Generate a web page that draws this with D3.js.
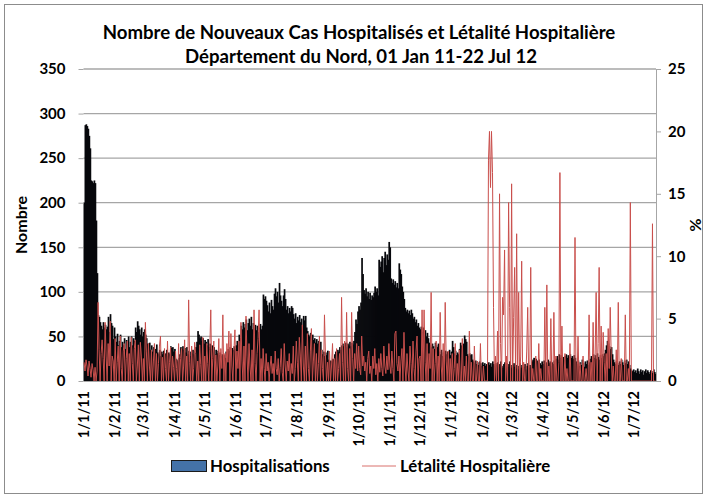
<!DOCTYPE html>
<html>
<head>
<meta charset="utf-8">
<script src="https://cdn.jsdelivr.net/npm/d3@7"></script>
<style>
  body { margin: 0; background: #fff; }
  svg text { font-family: Lato, "Open Sans", sans-serif; font-weight: bold; fill: #000; }
</style>
</head>
<body>
<div class="chart"></div>
<script>
// daily new hospitalised cases, 01 Jan 11 - 22 Jul 12
const hospJan11 = [200,287,288,286,283,275,261,225,224,222,225,222,180,121,74,72,66,62,58,66,60,63,58,61,72,55,75,65,62,47,60];
const hospFeb11 = [50,44,53,40,45,52,38,44,40,48,36,46,42,50,38,44,50,40,48,45,60,55,67,62,58,52,60,50];
const hospMar11 = [55,58,52,48,42,38,43,35,40,33,38,30,36,41,32,30,35,28,33,30,34,29,31,35,28,32,30,39,37,38,33];
const hospApr11 = [36,25,24,22,26,30,38,36,39,35,37,32,38,30,34,28,33,31,35,30,34,38,44,56,52,48,50,45,48,42];
const hospMay11 = [46,44,40,47,38,42,36,40,33,38,30,35,31,34,29,32,28,30,27,29,26,33,30,36,34,38,32,37,35,39,36];
const hospJun11 = [40,45,41,52,48,62,58,66,60,64,69,57,65,70,62,72,58,65,60,63,57,62,55,60,64,58,62,97,92,95];
const hospJul11 = [90,85,78,88,76,91,84,80,98,104,95,100,88,110,96,90,84,96,103,92,80,84,76,82,78,84,82,75,70,76,65];
const hospAug11 = [72,68,74,66,70,62,73,68,73,60,56,52,50,54,48,52,46,48,43,47,42,45,40,44,35,30,33,28,32,29,34];
const hospSep11 = [24,22,23,22,25,24,30,33,31,35,33,38,35,40,42,39,41,43,38,42,40,44,39,43,41,45,55,69,64,78];
const hospOct11 = [84,80,88,138,120,102,98,104,95,100,92,99,91,96,94,99,106,100,104,96,136,128,134,140,122,138,145,130,142,136,156];
const hospNov11 = [150,115,110,114,108,112,105,110,104,132,125,120,106,100,92,82,78,80,76,79,74,80,76,70,72,66,69,62,65,60];
const hospDec11 = [58,61,55,60,52,57,50,54,48,43,40,38,42,39,36,43,40,38,42,33,30,35,28,32,29,34,30,33,31,35,29];
const hospJan12 = [33,45,38,31,34,29,32,30,36,43,40,38,42,51,47,44,30,28,31,29,30,24,22,20,23,19,21,18,22,20,17];
const hospFeb12 = [21,18,20,17,19,16,21,18,20,16,22,19,17,20,18,21,16,19,22,17,15,19,21,17,20,16,19,22,18];
const hospMar12 = [15,18,20,16,14,18,13,17,20,15,18,14,16,19,13,17,20,15,18,16,22,24,26,22,25,23,21,24,20,18,22];
const hospApr12 = [19,23,17,21,18,24,20,22,17,21,19,23,18,25,28,24,30,26,29,25,27,24,28,30,26,29,27,30,26,28];
const hospMay12 = [25,29,26,22,19,23,17,21,18,24,20,16,22,19,23,18,21,25,28,24,30,26,29,25,31,27,24,29,26,30,28];
const hospJun12 = [31,35,40,45,42,39,36,38,30,24,21,19,23,20,18,22,19,24,21,18,23,20,24,19,22,18,14,12,11,13];
const hospJul12 = [10,12,9,14,11,8,13,10,12,7,11,13,9,12,10,8,12,11,9,13,10,8];

// daily hospital case fatality rate (%)
const letJan11 = [1.5,0.8,1.7,1.2,0.4,1.6,1.0,0.3,1.4,0.9,0,1.1,0,0.8,6.3,2.5,0,2.2,3.3,1.8,0,4.7,2.0,0,3.0,1.2,4.8,0,2.0,1.6,0];
const letFeb11 = [3.4,0,1.5,2.8,0,3.6,1.0,0,2.4,3.0,0,1.8,3.2,0,2.2,0,3.5,1.4,0,2.6,3.3,0,1.2,2.9,0,3.1,2.0,0];
const letMar11 = [1.8,0,4.7,2.4,0,3.0,1.2,0,2.5,0,1.6,3.0,0,2.2,0,1.4,2.8,3.6,0,1.9,0,2.6,1.0,0,3.2,0,1.5,2.7,0,2.0,1.1];
const letApr11 = [0,2.4,1.0,0,3.0,0,1.8,2.6,0,1.2,3.3,0,2.0,0,6.5,1.5,0,2.8,0,1.0,3.1,2.2,0,1.6,0,2.9,1.3,0,3.5,0];
const letMay11 = [2.0,0,3.0,1.4,0,2.5,5.7,0,1.8,3.2,0,2.1,0,1.2,3.4,0,2.6,1.0,5.3,0,2.2,0,3.0,1.5,4.0,0,3.8,1.2,0,2.4,4.1];
const letJun11 = [0,2.4,1.0,3.2,0,4.7,1.6,0,2.8,0,5.2,2.0,0,3.0,1.2,0,2.5,0,5.7,1.4,0,2.2,3.4,5.7,0,1.8,0,2.6,1.0,0];
const letJul11 = [2.2,0.8,1.5,0,1.2,2.0,0.6,1.4,0,2.4,1.0,0.5,1.8,0,1.1,2.6,0.7,0,3.0,1.2,0,1.6,0.8,2.2,0,1.4,0.6,2.8,0,1.0,3.2];
const letAug11 = [1.5,0,3.5,2.0,0,4.5,1.2,0,2.8,0,3.8,1.0,0,2.4,4.2,0,1.6,3.0,0,2.2,0,1.4,3.6,0,2.5,1.0,0,5.3,2.0,0,1.5];
const letSep11 = [0,2.4,0,1.2,3.0,0,1.8,0,2.6,0,1.0,2.2,0,6.7,1.5,0,3.2,0,5.5,1.0,0,2.6,0,5.5,1.8,0,2.2,1.0,3.0,0.8];
const letOct11 = [2.8,1.0,0.5,3.6,1.2,2.0,0.8,1.5,0,1.8,2.4,0.6,1.2,0,2.0,1.0,2.6,0.5,1.4,0,1.8,0.7,2.2,1.0,0.4,2.8,1.2,0.6,2.0,0.9,3.0];
const letNov11 = [1.2,0.6,2.4,1.0,0,3.8,4.0,1.4,0.8,2.0,0,1.6,2.6,0,3.9,1.2,0,2.2,0.8,0,2.8,1.4,0,3.2,1.0,0,2.4,3.6,0,1.8];
const letDec11 = [2.0,0,5.7,0,5.7,1.5,0,3.0,0,2.2,1.0,7.1,0,2.6,0,1.4,3.2,0,2.0,0,5.5,1.2,0,3.0,0,6.3,1.6,0,2.4,0,1.8];
const letJan12 = [0,2.2,0,1.0,3.0,0,1.4,0,2.5,0,0,3.4,0,1.2,0,2.0,0,0,4.0,0,1.5,0,0,2.8,0,0,1.6,0,0,3.0,0];
const letFeb12 = [0,1.2,0,0,0,0,17.7,20.0,15.5,20.0,16.7,5.9,0,2.0,0,4.0,0,15.0,3.0,0,6.7,5.3,10.5,0,2.0,0,14.3,5.9,0];
const letMar12 = [15.8,0,5.1,9.1,0,11.8,0,7.1,0,2.0,9.6,0,1.5,0,0,2.4,5.9,0,0,9.1,0,1.0,0,0,2.0,0,0,3.0,0,1.0,0];
const letApr12 = [0,0,5.9,0,7.7,0,1.2,0,5.0,0,0,5.5,0,2.0,0,0,1.5,16.7,0,4.4,0,0,2.2,0,1.0,0,0,3.0,0,0];
const letMay12 = [0,0,11.5,0,0,3.6,0,1.4,0,0,2.0,0,0,1.0,0,0,5.3,0,1.5,0,4.7,0,2.0,7.1,0,3.0,9.1,0,4.4,0,3.9];
const letJun12 = [1.5,0,2.2,0,4.2,1.0,5.9,2.0,0,1.2,0,0,2.5,0,6.3,0,0,1.8,0,0,0,5.3,0,0,1.0,0,14.3,0,0,0];
const letJul12 = [0,0,0,0,0,0,0,0,0,0,0,0,0,0,0,0,0,0,12.6,0,0,0];

const tickLabels = ['1/1/11','1/2/11','1/3/11','1/4/11','1/5/11','1/6/11','1/7/11','1/8/11','1/9/11',
  '1/10/11','1/11/11','1/12/11','1/1/12','1/2/12','1/3/12','1/4/12','1/5/12','1/6/12','1/7/12'];
const leftTicks = [0, 50, 100, 150, 200, 250, 300, 350];
const rightTicks = [0, 5, 10, 15, 20, 25];

const hosp = [].concat(hospJan11, hospFeb11, hospMar11, hospApr11, hospMay11, hospJun11, hospJul11,
  hospAug11, hospSep11, hospOct11, hospNov11, hospDec11, hospJan12, hospFeb12, hospMar12, hospApr12,
  hospMay12, hospJun12, hospJul12);
const letalite = [].concat(letJan11, letFeb11, letMar11, letApr11, letMay11, letJun11, letJul11,
  letAug11, letSep11, letOct11, letNov11, letDec11, letJan12, letFeb12, letMar12, letApr12,
  letMay12, letJun12, letJul12);

const start = new Date(2011, 0, 1);
const parseDate = d3.timeParse('%d/%m/%y');
const tickIdx = tickLabels.map(t => d3.timeDay.count(start, parseDate(t)));

const w = 707, h = 497;
const padLeft = 83.5, padRight = 656, padTop = 69, padBottom = 381;

const svg = d3.select('.chart')
  .append('svg')
  .attr('width', w)
  .attr('height', h);

svg.append('rect')
  .attr('x', 4.5).attr('y', 4.5)
  .attr('width', 698).attr('height', 489)
  .attr('fill', 'none')
  .attr('stroke', '#8c8c8c');

const xScale = d3.scaleBand()
  .domain(d3.range(hosp.length))
  .range([padLeft, padRight])
  .padding(0);

const yScale = d3.scaleLinear().domain([0, 350]).range([padBottom, padTop]);
const y2Scale = d3.scaleLinear().domain([0, 25]).range([padBottom, padTop]);

// gridlines
svg.append('g')
  .selectAll('line')
  .data(leftTicks.filter(d => d > 0))
  .join('line')
  .attr('x1', padLeft).attr('x2', padRight)
  .attr('y1', d => yScale(d)).attr('y2', d => yScale(d))
  .attr('stroke', '#a6a6a6')
  .attr('stroke-width', 1.3);

// bars
svg.append('g')
  .selectAll('rect')
  .data(hosp)
  .join('rect')
  .attr('x', (d, i) => xScale(i))
  .attr('y', d => yScale(d))
  .attr('width', xScale.bandwidth() + 0.7)
  .attr('height', d => padBottom - yScale(d))
  .attr('fill', '#07080c');

// lethality line
const line = d3.line()
  .x((d, i) => xScale(i) + xScale.bandwidth() / 2)
  .y(d => y2Scale(d));

svg.append('path')
  .datum(letalite)
  .attr('fill', 'none')
  .attr('stroke', '#c94f4c')
  .attr('stroke-width', 1)
  .attr('stroke-linejoin', 'round')
  .attr('d', line);

// left axis
const yAxis = d3.axisLeft(yScale).tickValues(leftTicks).tickSize(5).tickSizeOuter(0).tickPadding(13);
svg.append('g')
  .attr('transform', `translate(${padLeft}, 0)`)
  .call(yAxis)
  .call(g => g.select('.domain').remove())
  .call(g => g.selectAll('.tick line').attr('stroke', '#a6a6a6'))
  .call(g => g.selectAll('text').style('font-size', '15px'));

// right axis
const y2Axis = d3.axisRight(y2Scale).tickValues(rightTicks).tickSize(5).tickSizeOuter(0).tickPadding(7);
svg.append('g')
  .attr('transform', `translate(${padRight}, 0)`)
  .call(y2Axis)
  .call(g => g.select('.domain').attr('stroke', '#a6a6a6'))
  .call(g => g.selectAll('.tick line').attr('stroke', '#a6a6a6'))
  .call(g => g.selectAll('text').style('font-size', '15px'));

// x axis
const xAxis = d3.axisBottom(xScale)
  .tickValues(tickIdx)
  .tickFormat((d, i) => tickLabels[i])
  .tickSize(0)
  .tickSizeOuter(0);

svg.append('g')
  .attr('transform', `translate(0, ${padBottom})`)
  .call(xAxis)
  .call(g => g.select('.domain').attr('stroke', '#a6a6a6').attr('d', `M${padLeft},0.5H${padRight + 5}`))
  .call(g => g.selectAll('text')
    .style('font-size', '14.5px')
    .attr('transform', 'rotate(-90)')
    .attr('text-anchor', 'end')
    .attr('x', -10)
    .attr('y', 0)
    .attr('dy', '0.35em'));

// axis titles
svg.append('text')
  .attr('transform', 'translate(27, 225) rotate(-90)')
  .attr('text-anchor', 'middle')
  .style('font-size', '16px')
  .text('Nombre');

svg.append('text')
  .attr('transform', 'translate(690, 225) rotate(90)')
  .attr('text-anchor', 'middle')
  .style('font-size', '16px')
  .text('%');

// title
svg.append('text')
  .attr('x', 359).attr('y', 39)
  .attr('text-anchor', 'middle')
  .style('font-size', '18.6px')
  .text('Nombre de Nouveaux Cas Hospitalisés et Létalité Hospitalière');

svg.append('text')
  .attr('x', 361).attr('y', 63)
  .attr('text-anchor', 'middle')
  .style('font-size', '18.6px')
  .text('Département du Nord, 01 Jan 11-22 Jul 12');

// legend
const legend = svg.append('g');
legend.append('rect')
  .attr('x', 171.5).attr('y', 460.5)
  .attr('width', 35).attr('height', 11)
  .attr('fill', '#4472a8')
  .attr('stroke', '#1b1b1b');
legend.append('text')
  .attr('x', 210).attr('y', 472)
  .style('font-size', '16.8px')
  .text('Hospitalisations');
legend.append('line')
  .attr('x1', 362).attr('x2', 396)
  .attr('y1', 466).attr('y2', 466)
  .attr('stroke', '#d9706d');
legend.append('text')
  .attr('x', 400).attr('y', 472)
  .style('font-size', '16.8px')
  .text('Létalité Hospitalière');
</script>
</body>
</html>
